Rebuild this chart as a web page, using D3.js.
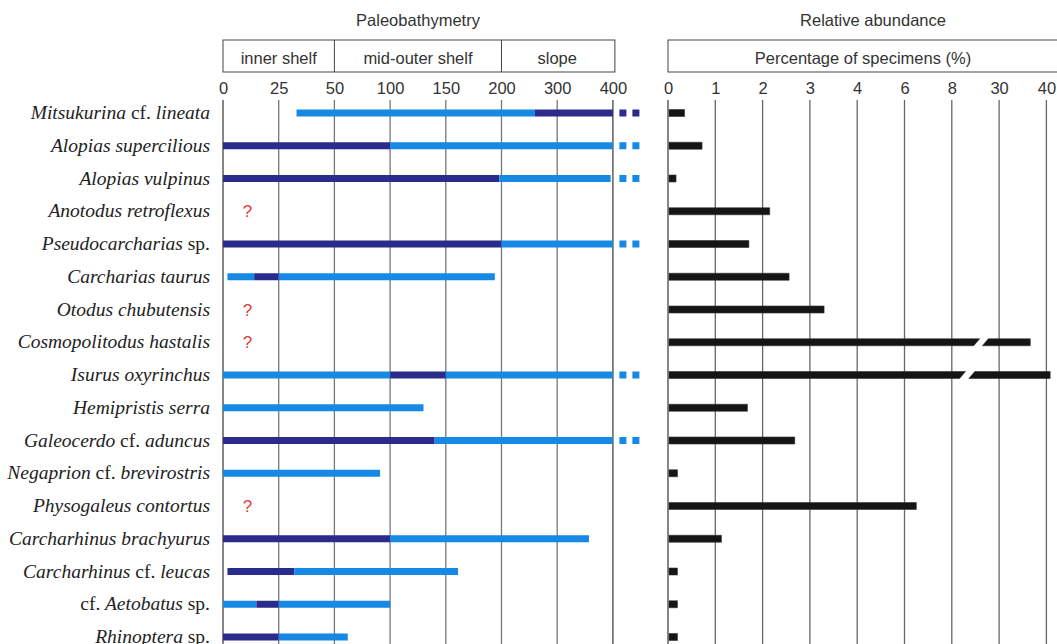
<!DOCTYPE html>
<html><head><meta charset="utf-8">
<script src="https://cdn.jsdelivr.net/npm/d3@7"></script>
<style>body{margin:0;background:#fff}svg{display:block}</style>
</head><body><svg id="c" width="1057" height="644"></svg>
<script>
const species = ["Mitsukurina cf. lineata","Alopias supercilious","Alopias vulpinus","Anotodus retroflexus","Pseudocarcharias sp.","Carcharias taurus","Otodus chubutensis","Cosmopolitodus hastalis","Isurus oxyrinchus","Hemipristis serra","Galeocerdo cf. aduncus","Negaprion cf. brevirostris","Physogaleus contortus","Carcharhinus brachyurus","Carcharhinus cf. leucas","cf. Aetobatus sp.","Rhinoptera sp."];
// depth ranges (m): [from, to, tone] tone: "d" = dark, "l" = light
const depthRanges = [
  [[33,260,"l"],[260,400,"d"]],
  [[0,100,"d"],[100,400,"l"]],
  [[0,198,"d"],[198,396,"l"]],
  [],
  [[0,200,"d"],[200,400,"l"]],
  [[2,14,"l"],[14,25,"d"],[25,194,"l"]],
  [],
  [],
  [[0,100,"l"],[100,150,"d"],[150,400,"l"]],
  [[0,130,"l"]],
  [[0,140,"d"],[140,400,"l"]],
  [[0,91,"l"]],
  [],
  [[0,100,"d"],[100,357,"l"]],
  [[2,32,"d"],[32,161,"l"]],
  [[0,15,"l"],[15,25,"d"],[25,100,"l"]],
  [[0,25,"d"],[25,62,"l"]]
];
const continuesDeeper = [true,true,true,false,true,false,false,false,true,false,true,false,false,false,false,false,false];
const uncertainDepth = [false,false,false,true,false,false,true,true,false,false,false,false,true,false,false,false,false];
const abundance = [0.35,0.72,0.17,2.15,1.71,2.56,3.3,36.6,40.8,1.68,2.68,0.2,6.5,1.13,0.2,0.2,0.2];
// axis break drawn inside bar (in axis units), null if none
const abundanceBreak = [null,null,null,null,null,null,null,[19.6,23.6],[13,17.3],null,null,null,null,null,null,null,null];
const depthTicks = [0,25,50,100,150,200,300,400];
const abundTicks = [0,1,2,3,4,6,8,30,40];
const zones = [{name:"inner shelf",from:0,to:50},{name:"mid-outer shelf",from:50,to:200},{name:"slope",from:200,to:400}];

const svg = d3.select("#c");
const colDark = "#2b2b8c", colLight = "#1589e3";
const xL = d3.scaleLinear().domain(depthTicks).range(depthTicks.map((d,i)=>223+i*55.7));
const xR = d3.scaleLinear().domain(abundTicks).range(abundTicks.map((d,i)=>668+i*47.3));
const y = d3.scalePoint().domain(species).range([113,637]);
const gridTop = 100, gridBottom = 650;
const sans = "'Liberation Sans', Arial, sans-serif";
const fs = 16.5;

// titles
svg.append("text").attr("x",418).attr("y",26).attr("text-anchor","middle").attr("font-family",sans).attr("font-size",fs).attr("fill","#333").text("Paleobathymetry");
svg.append("text").attr("x",873).attr("y",26).attr("text-anchor","middle").attr("font-family",sans).attr("font-size",fs).attr("fill","#333").text("Relative abundance");

// zone box
const boxT = 40, boxB = 72;
svg.append("rect").attr("x",xL(0)).attr("y",boxT).attr("width",xL(400)+2-xL(0)).attr("height",boxB-boxT).attr("fill","none").attr("stroke","#444");
zones.forEach((z,i)=>{
  if(i>0) svg.append("line").attr("x1",xL(z.from)).attr("x2",xL(z.from)).attr("y1",boxT).attr("y2",boxB).attr("stroke","#444");
  svg.append("text").attr("x",(xL(z.from)+xL(z.to))/2).attr("y",63.5).attr("text-anchor","middle").attr("font-family",sans).attr("font-size",fs).attr("fill","#333").text(z.name);
});
svg.append("rect").attr("x",xR(0)).attr("y",boxT).attr("width",420).attr("height",boxB-boxT).attr("fill","none").attr("stroke","#444");
svg.append("text").attr("x",863).attr("y",63.5).attr("text-anchor","middle").attr("font-family",sans).attr("font-size",fs).attr("fill","#333").text("Percentage of specimens (%)");

// axes
const axL = svg.append("g").attr("transform",`translate(0,${gridTop})`).call(d3.axisTop(xL).tickValues(depthTicks).tickSize(0).tickPadding(6).tickFormat(d3.format("d")));
const axR = svg.append("g").attr("transform",`translate(0,${gridTop})`).call(d3.axisTop(xR).tickValues(abundTicks).tickSize(0).tickPadding(6).tickFormat(d3.format("d")));
[axL,axR].forEach(a=>{a.select(".domain").remove();a.selectAll("text").attr("font-family",sans).attr("font-size",fs).attr("fill","#333");});

// gridlines
svg.append("g").selectAll("line").data(depthTicks).join("line")
  .attr("x1",d=>xL(d)).attr("x2",d=>xL(d)).attr("y1",gridTop).attr("y2",gridBottom)
  .attr("stroke",(d,i)=>i===0||i===depthTicks.length-1?"#444":"#777").attr("stroke-width",1.3);
svg.append("g").selectAll("line").data(abundTicks).join("line")
  .attr("x1",d=>xR(d)).attr("x2",d=>xR(d)).attr("y1",gridTop).attr("y2",gridBottom)
  .attr("stroke",(d,i)=>i===0?"#444":"#666").attr("stroke-width",1.3);

// labels
const lab = svg.append("g");
species.forEach(s=>{
  const t = lab.append("text").attr("x",210).attr("y",y(s)+6).attr("text-anchor","end")
    .attr("font-family","'Liberation Serif','Times New Roman',serif").attr("font-size",19.5).attr("fill","#222");
  s.split(" ").forEach((w,i)=>{
    t.append("tspan").attr("font-style",(w==="cf."||w==="sp.")?"normal":"italic").text((i?" ":"")+w);
  });
});

// depth bars
const bh = 7;
species.forEach((s,i)=>{
  const g = svg.append("g");
  depthRanges[i].forEach(r=>{
    g.append("rect").attr("x",xL(r[0])).attr("y",y(s)-bh/2).attr("width",xL(r[1])-xL(r[0])).attr("height",bh)
      .attr("fill",r[2]==="d"?colDark:colLight);
  });
  if(continuesDeeper[i]){
    const last = depthRanges[i][depthRanges[i].length-1];
    [10,23].forEach(o=>g.append("rect").attr("x",xL(400)+o-3.5).attr("y",y(s)-3.5).attr("width",7).attr("height",7)
      .attr("fill",last[2]==="d"?colDark:colLight));
  }
  if(uncertainDepth[i]){
    g.append("text").attr("x",xL(11)).attr("y",y(s)+6).attr("text-anchor","middle").attr("font-family",sans).attr("font-size",17).attr("fill","#e03a3a").text("?");
  }
});

// abundance bars
const rh = 7, slant = 3;
species.forEach((s,i)=>{
  const yc = y(s), y0 = yc-rh/2, y1 = yc+rh/2;
  const x0 = xR(0)+1, xv = xR(abundance[i]);
  const br = abundanceBreak[i];
  let paths = [];
  if(br){
    const a = xR(br[0]), b = xR(br[1]);
    paths.push(`M${x0},${y0}L${a+slant},${y0}L${a-slant},${y1}L${x0},${y1}Z`);
    paths.push(`M${b+slant},${y0}L${xv},${y0}L${xv},${y1}L${b-slant},${y1}Z`);
  } else {
    paths.push(`M${x0},${y0}L${xv},${y0}L${xv},${y1}L${x0},${y1}Z`);
  }
  svg.append("g").selectAll("path").data(paths).join("path").attr("d",d=>d).attr("fill","#151515").attr("stroke","#333").attr("stroke-width",0.6);
});
</script></body></html>
